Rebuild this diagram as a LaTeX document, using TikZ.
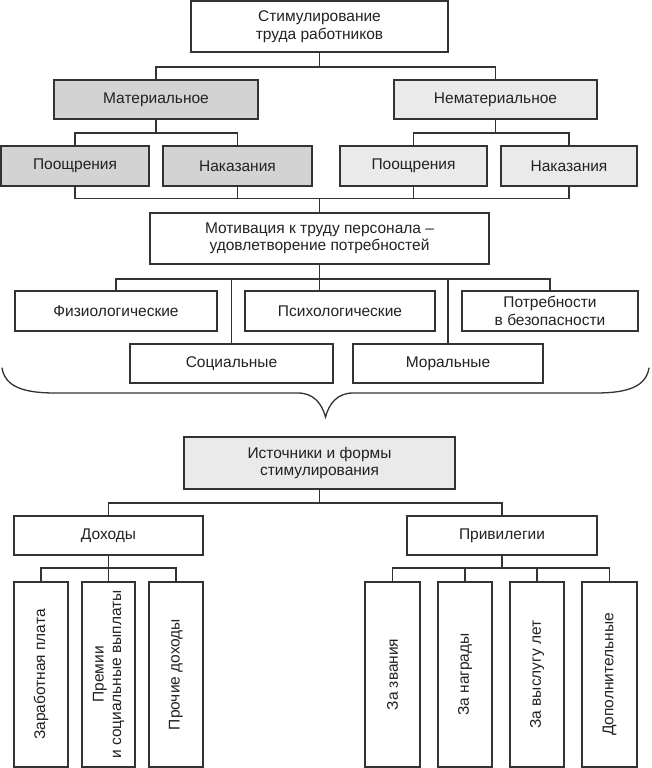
\documentclass[tikz,border=0pt]{standalone}
\usepackage{fontspec}
\setmainfont{Liberation Sans}
\definecolor{dk}{HTML}{D3D3D3}
\definecolor{lt}{HTML}{EAEAEA}
\definecolor{ln}{HTML}{333333}
\definecolor{tx}{HTML}{222222}
\begin{document}
\begin{tikzpicture}[x=1pt,y=-1pt,
  box/.style={draw=ln, line width=1.3pt, fill=white, inner sep=0pt, align=center, text=tx,
    font=\fontsize{15.5}{17.5}\selectfont},
  dbox/.style={box, fill=dk},
  lbox/.style={box, fill=lt},
  vbox/.style={box, rotate=90, minimum width=185pt},
  con/.style={draw=ln, line width=1.3pt}]
\useasboundingbox (0,0) rectangle (651,768);
% top level
\node[box, minimum width=257pt, minimum height=51pt] (top) at (319.5,26.5) {Стимулирование\\труда работников};
\node[dbox, minimum width=204pt, minimum height=39pt] (mat) at (156,99.5) {Материальное};
\node[lbox, minimum width=203pt, minimum height=39pt] (nemat) at (495.5,99.5) {Нематериальное};
\node[dbox, minimum width=148pt, minimum height=40pt] (p1) at (75,166) {Поощрения};
\node[dbox, minimum width=149pt, minimum height=40pt] (n1) at (237.5,166) {Наказания};
\node[lbox, minimum width=147pt, minimum height=40pt] (p2) at (413.5,166) {Поощрения};
\node[lbox, minimum width=136pt, minimum height=40pt] (n2) at (569,166) {Наказания};
% motivation
\node[box, minimum width=339pt, minimum height=51pt] (motiv) at (319.5,238.5) {Мотивация к труду персонала –\\удовлетворение потребностей};
\node[box, minimum width=202pt, minimum height=40pt] (fiz) at (116,311) {Физиологические};
\node[box, minimum width=190pt, minimum height=40pt] (psy) at (340,311) {Психологические};
\node[box, minimum width=176pt, minimum height=40pt] (bez) at (550,311) {Потребности\\в безопасности};
\node[box, minimum width=203pt, minimum height=39pt] (soc) at (231.5,363.5) {Социальные};
\node[box, minimum width=190pt, minimum height=39pt] (mor) at (448,363.5) {Моральные};
% sources
\node[lbox, minimum width=271pt, minimum height=52pt] (ist) at (319.5,463) {Источники и формы\\стимулирования};
\node[box, minimum width=189pt, minimum height=39pt] (doh) at (108.5,535.5) {Доходы};
\node[box, minimum width=190pt, minimum height=39pt] (priv) at (502,535.5) {Привилегии};
\node[vbox, minimum height=54pt] (v1) at (41,674.5) {Заработная плата};
\node[vbox, minimum height=53pt] (v2) at (108.5,674.5) {Премии\\и социальные выплаты};
\node[vbox, minimum height=54pt] (v3) at (176,674.5) {Прочие доходы};
\node[vbox, minimum height=55pt] (v4) at (392.5,674.5) {За звания};
\node[vbox, minimum height=54pt] (v5) at (465,674.5) {За награды};
\node[vbox, minimum height=54pt] (v6) at (537,674.5) {За выслугу лет};
\node[vbox, minimum height=55pt] (v7) at (609.5,674.5) {Дополнительные};
% junctions
\coordinate (j1) at (319.5,67);
\coordinate (j2) at (156,133);
\coordinate (j3) at (495.5,133);
\coordinate (j4) at (319.5,198.5);
\coordinate (j5) at (319.5,279);
\coordinate (j6) at (319.5,503);
\coordinate (j7) at (108.5,568);
\coordinate (j8) at (502,568);
% connectors
\draw[con] (top.south) -- (j1);
\draw[con] (mat.north) |- (j1) -| (nemat.north);
\draw[con] (mat.south) -- (j2);
\draw[con] (p1.north) |- (j2) -| (n1.north);
\draw[con] (nemat.south) -- (j3);
\draw[con] (p2.north) |- (j3) -| (n2.north);
\draw[con] (p1.south) |- (j4) -| (n2.south);
\draw[con] (n1.south) -- (n1.south |- j4);
\draw[con] (p2.south) -- (p2.south |- j4);
\draw[con] (j4) -- (motiv.north);
\draw[con] (motiv.south) -- (j5);
\draw[con] (fiz.north) |- (j5) -| (bez.north);
\draw[con] (j5) -- (j5 |- psy.north);
\draw[con] (soc.north) -- (soc.north |- j5);
\draw[con] (mor.north) -- (mor.north |- j5);
\draw[con] (ist.south) -- (j6);
\draw[con] (doh.north) |- (j6) -| (priv.north);
\draw[con] (doh.south) -- (j7);
\draw[con] (v1.east) |- (j7) -| (v3.east);
\draw[con] (j7) -- (v2.east);
\draw[con] (priv.south) -- (j8);
\draw[con] (v4.east) |- (j8) -| (v7.east);
\draw[con] (v5.east) -- (v5.east |- j8);
\draw[con] (v6.east) -- (v6.east |- j8);
% brace
\draw[con, line cap=round] (2,368) .. controls (5,386) and (22,393) .. (55,393)
  -- (298,393) .. controls (314,393) and (322,404) .. (325.5,417)
  .. controls (329,404) and (337,393) .. (353,393)
  -- (596,393) .. controls (629,393) and (646,386) .. (649,368);
\end{tikzpicture}
\end{document}
